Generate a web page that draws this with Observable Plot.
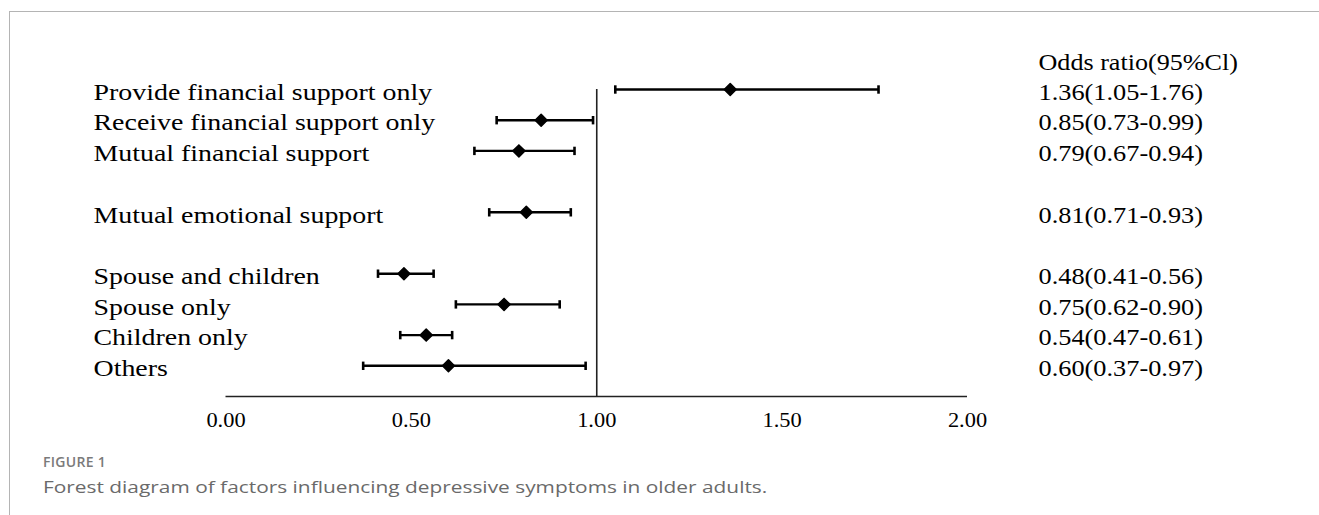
<!DOCTYPE html>
<html>
<head>
<meta charset="utf-8">
<script src="https://cdn.jsdelivr.net/npm/d3@7"></script>
<script src="https://cdn.jsdelivr.net/npm/@observablehq/plot@0.6"></script>
<style>
  html, body { margin: 0; padding: 0; background: #fff; width: 1319px; height: 515px; overflow: hidden; }
  #frame { position: absolute; left: 9px; top: 11px; right: -5px; bottom: -5px; border-top: 1.5px solid #b4b4b4; border-left: 1.5px solid #b4b4b4; }
  #chart { position: absolute; left: 0; top: 0; }
  #cap1 { position: absolute; left: 43px; top: 452px; font-family: "Open Sans", sans-serif; font-weight: 600; font-size: 14px; color: #7a7a7a; letter-spacing: 0.3px; white-space: nowrap; }
  #cap2 { position: absolute; left: 43px; top: 475px; font-family: "Open Sans", sans-serif; font-size: 17px; color: #6a6a6a; white-space: nowrap; transform-origin: 0 0; }
</style>
</head>
<body>
<div id="frame"></div>
<div id="chart"></div>
<div id="cap1">FIGURE 1</div>
<div id="cap2">Forest diagram of factors influencing depressive symptoms in older adults.</div>
<script>
// Data
const labels = [
  "Provide financial support only",
  "Receive financial support only",
  "Mutual financial support",
  "Mutual emotional support",
  "Spouse and children",
  "Spouse only",
  "Children only",
  "Others"
];
const rowPos = [0, 1, 2, 4, 6, 7, 8, 9];
const oddsRatio = [1.36, 0.85, 0.79, 0.81, 0.48, 0.75, 0.54, 0.60];
const ciLow = [1.05, 0.73, 0.67, 0.71, 0.41, 0.62, 0.47, 0.37];
const ciHigh = [1.76, 0.99, 0.94, 0.93, 0.56, 0.90, 0.61, 0.97];
const xTicks = [0, 0.5, 1, 1.5, 2];
const refValue = 1;
const axisRow = 10;
const headerText = "Odds ratio(95%Cl)";

const fmt = d3.format(".2f");
const rows = labels.map((label, i) => ({
  label, y: rowPos[i], or: oddsRatio[i], lo: ciLow[i], hi: ciHigh[i],
  text: `${fmt(oddsRatio[i])}(${fmt(ciLow[i])}-${fmt(ciHigh[i])})`
}));

const capSymbol = {
  draw(ctx, size) {
    const h = Math.sqrt(size / Math.PI);
    ctx.moveTo(0, -h);
    ctx.lineTo(0, h);
  }
};

const W = 1319, H = 440;
const xLeft = 225.5, xRight = 967;

const chart = Plot.plot({
  width: W,
  height: H,
  marginLeft: xLeft,
  marginRight: W - xRight,
  marginTop: 62,
  marginBottom: 44,
  style: { fontFamily: '"Liberation Serif", "Times New Roman", serif', background: "transparent", color: "#000" },
  x: { domain: [xTicks[0], xTicks[xTicks.length - 1]] },
  y: { domain: [0, axisRow], range: [89, 396], axis: null },
  marks: [
    Plot.ruleY([axisRow], { x1: xTicks[0], x2: xTicks[xTicks.length - 1], stroke: "#222", strokeWidth: 1.6 }),
    Plot.ruleX([refValue], { y1: 0, y2: axisRow, stroke: "#222", strokeWidth: 1.6 }),
    Plot.ruleY(rows, { y: "y", x1: "lo", x2: "hi", stroke: "#000", strokeWidth: 2.4 }),
    Plot.dot(rows, { x: "lo", y: "y", symbol: capSymbol, r: 4.2, stroke: "#000", strokeWidth: 2.6, fill: "none" }),
    Plot.dot(rows, { x: "hi", y: "y", symbol: capSymbol, r: 4.2, stroke: "#000", strokeWidth: 2.6, fill: "none" }),
    Plot.dot(rows, { x: "or", y: "y", symbol: "diamond2", r: 5.4, fill: "#000", stroke: "#000", strokeWidth: 1.5, strokeLinejoin: "round" }),
    Plot.text(rows, { y: "y", text: "label", frameAnchor: "left", dx: 93 - xLeft, dy: 3, textAnchor: "start", fontSize: 22.5, fill: "#000" }),
    Plot.text(rows, { y: "y", text: "text", frameAnchor: "right", dx: 1038 - xRight, dy: 3, textAnchor: "start", fontSize: 22.5, fill: "#000" }),
    Plot.text([headerText], { frameAnchor: "top-right", dx: 1038 - xRight, dy: 0, textAnchor: "start", lineAnchor: "middle", fontSize: 22.5, fill: "#000" }),
    Plot.axisX(xTicks, { tickSize: 0, tickPadding: 16, tickFormat: fmt, fontSize: 20, label: null, fill: "#000" })
  ]
});
document.getElementById("chart").appendChild(chart);

// The reference's serif type is drawn horizontally stretched; widen glyphs to match.
function stretch(nodes, k) {
  nodes.forEach(t => {
    const L = t.getComputedTextLength();
    t.setAttribute("textLength", (L * k).toFixed(1));
    t.setAttribute("lengthAdjust", "spacingAndGlyphs");
  });
}
const textGroups = chart.querySelectorAll('g[aria-label="text"]');
if (textGroups.length >= 3) {
  stretch(textGroups[0].querySelectorAll("text"), 1.24);
  stretch(textGroups[1].querySelectorAll("text"), 1.17);
  stretch(textGroups[2].querySelectorAll("text"), 1.16);
}
stretch(chart.querySelectorAll('g[aria-label="x-axis tick label"] text'), 1.12);

const cap2 = document.getElementById("cap2");
const w = cap2.getBoundingClientRect().width;
cap2.style.transform = `scaleX(${(724 / w).toFixed(3)})`;
</script>
</body>
</html>
